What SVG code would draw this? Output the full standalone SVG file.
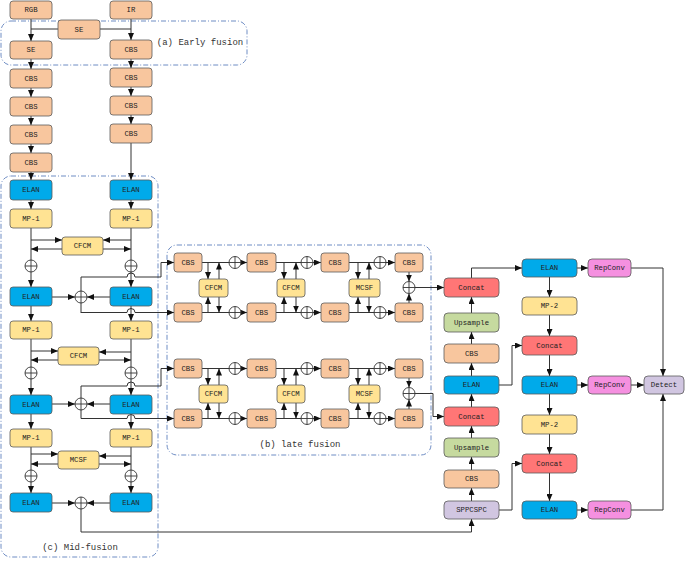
<svg xmlns="http://www.w3.org/2000/svg" width="685" height="561" viewBox="0 0 685 561">
<style>
rect.n{stroke:#5a5a5a;stroke-width:0.8}
.cbs{fill:#F8C69E}.elan{fill:#00AAEA}.yel{fill:#FFE393}.cat{fill:#FF7676}.ups{fill:#C6DA9F}.rep{fill:#F590E0}.pur{fill:#D1C6E1}
text{font-family:"Liberation Mono","DejaVu Sans Mono",monospace;font-size:7.3px;text-anchor:middle;dominant-baseline:central;fill:#222}
text.cap{font-size:9px;fill:#333}
.ln{fill:none;stroke:#333;stroke-width:1}
.a{marker-end:url(#ah)}
.ox circle{fill:#fff;stroke:#333;stroke-width:0.9}
.ox path{stroke:#333;stroke-width:0.9;fill:none}
.reg{fill:none;stroke:#6F8DC4;stroke-width:1;stroke-dasharray:5 2 1 2}
</style>
<defs>
<marker id="ah" markerWidth="7" markerHeight="6" refX="7" refY="3" orient="auto" markerUnits="userSpaceOnUse"><path d="M0,0 L7,3 L0,6 z" fill="#111"/></marker>
</defs>
<rect width="685" height="561" fill="#fff"/>
<g id="regions">
<rect class="reg" x="1" y="21" width="246" height="44" rx="10"/>
<rect class="reg" x="1" y="176" width="157" height="381" rx="10"/>
<rect class="reg" x="167" y="245" width="264" height="210" rx="10"/>
<text class="cap" x="200" y="43">(a) Early fusion</text>
<text class="cap" x="80" y="548">(c) Mid-fusion</text>
<text class="cap" x="300" y="445">(b) late fusion</text>
</g>
<g id="connectors">
<!-- early fusion -->
<path class="ln a" d="M31,19 V41"/>
<path class="ln" d="M31,29 H58 M100,29 H131"/>
<path class="ln a" d="M131,19 V40"/>
<path class="ln a" d="M31,59 V69"/><path class="ln a" d="M31,88 V97"/><path class="ln a" d="M31,116 V125"/><path class="ln a" d="M31,144 V153"/><path class="ln a" d="M31,172 V180"/>
<path class="ln a" d="M131,59 V68"/><path class="ln a" d="M131,87 V96"/><path class="ln a" d="M131,115 V124"/><path class="ln a" d="M131,143 V180"/>
<!-- mid fusion columns -->
<path class="ln a" d="M31,200 V209"/><path class="ln a" d="M131,200 V209"/>
<path class="ln a" d="M31,228 V287"/><path class="ln a" d="M131,228 V287"/>
<path class="ln a" d="M31,306 V321"/><path class="ln a" d="M131,306 V321"/>
<path class="ln a" d="M31,339 V395"/><path class="ln a" d="M131,339 V395"/>
<path class="ln a" d="M31,414 V429"/><path class="ln a" d="M131,414 V429"/>
<path class="ln a" d="M31,447 V493"/><path class="ln a" d="M131,447 V493"/>
<!-- CFCM / MCSF exchange -->
<path class="ln a" d="M31,240 H62"/><path class="ln a" d="M131,240 H103"/><path class="ln a" d="M62,249 H31"/><path class="ln a" d="M103,249 H131"/>
<path class="ln a" d="M31,351 H58"/><path class="ln a" d="M131,352 H99"/><path class="ln a" d="M58,360 H31"/><path class="ln a" d="M99,360 H131"/>
<path class="ln a" d="M31,454 H58"/><path class="ln a" d="M131,456 H99"/><path class="ln a" d="M58,464 H31"/><path class="ln a" d="M99,464 H131"/>
<!-- middle add -->
<path class="ln a" d="M52,297 H75"/><path class="ln a" d="M110,297 H87"/>
<path class="ln a" d="M52,404 H75"/><path class="ln a" d="M110,404 H87"/>
<path class="ln a" d="M52,503 H75"/><path class="ln a" d="M110,503 H87"/>
<path class="ln" d="M81,277 V313"/>
<path class="ln" d="M81,386 V418.5"/>
<path class="ln a" d="M81,277 H127 A4,4 0 0 1 135,277 H161 V262.5 H174"/>
<path class="ln a" d="M81,312.5 H127 A4,4 0 0 1 135,312.5 H174"/>
<path class="ln a" d="M81,386 H127 A4,4 0 0 1 135,386 H161 V368.5 H174"/>
<path class="ln a" d="M81,418.5 H127 A4,4 0 0 1 135,418.5 H174"/>
<path class="ln a" d="M81,509 V532 H471.5 V519"/>
<!-- late fusion block 1 -->
<path class="ln" d="M202,262.5 H229 M276,262.5 H301 M349,262.5 H374 M202,312.5 H229 M276,312.5 H301 M349,312.5 H374"/>
<path class="ln a" d="M241,262.5 H247"/><path class="ln a" d="M313,262.5 H321"/><path class="ln a" d="M386,262.5 H395"/>
<path class="ln a" d="M241,312.5 H247"/><path class="ln a" d="M313,312.5 H321"/><path class="ln a" d="M386,312.5 H395"/>
<path class="ln a" d="M208,262.5 V279"/><path class="ln a" d="M219,279 V262.5"/><path class="ln a" d="M208,312.5 V297"/><path class="ln a" d="M219,297 V312.5"/>
<path class="ln a" d="M284,262.5 V279"/><path class="ln a" d="M296,279 V262.5"/><path class="ln a" d="M284,312.5 V297"/><path class="ln a" d="M296,297 V312.5"/>
<path class="ln a" d="M358,262.5 V279"/><path class="ln a" d="M369,279 V262.5"/><path class="ln a" d="M358,312.5 V297"/><path class="ln a" d="M369,297 V312.5"/>
<path class="ln a" d="M409,272 V281.5"/><path class="ln a" d="M409,303 V293.5"/>
<path class="ln a" d="M415,287.5 H444"/>
<!-- late fusion block 2 -->
<path class="ln" d="M202,368.5 H229 M276,368.5 H301 M349,368.5 H374 M202,418.5 H229 M276,418.5 H301 M349,418.5 H374"/>
<path class="ln a" d="M241,368.5 H247"/><path class="ln a" d="M313,368.5 H321"/><path class="ln a" d="M386,368.5 H395"/>
<path class="ln a" d="M241,418.5 H247"/><path class="ln a" d="M313,418.5 H321"/><path class="ln a" d="M386,418.5 H395"/>
<path class="ln a" d="M208,368.5 V385"/><path class="ln a" d="M219,385 V368.5"/><path class="ln a" d="M208,418.5 V403"/><path class="ln a" d="M219,403 V418.5"/>
<path class="ln a" d="M284,368.5 V385"/><path class="ln a" d="M296,385 V368.5"/><path class="ln a" d="M284,418.5 V403"/><path class="ln a" d="M296,403 V418.5"/>
<path class="ln a" d="M358,368.5 V385"/><path class="ln a" d="M369,385 V368.5"/><path class="ln a" d="M358,418.5 V403"/><path class="ln a" d="M369,403 V418.5"/>
<path class="ln a" d="M409,378 V387.5"/><path class="ln a" d="M409,409 V399.5"/>
<path class="ln a" d="M415,393.5 H433 V416.5 H444"/>
<!-- neck / head -->
<path class="ln a" d="M471.5,501 V488"/><path class="ln a" d="M471.5,470 V457"/><path class="ln a" d="M471.5,438 V426"/><path class="ln a" d="M471.5,407 V394"/>
<path class="ln a" d="M471.5,376 V363"/><path class="ln a" d="M471.5,344 V332"/><path class="ln a" d="M471.5,313 V297"/>
<path class="ln a" d="M471.5,278 V268 H522"/>
<path class="ln a" d="M499,385 H512 V345.5 H522"/>
<path class="ln a" d="M499,510 H512 V463.5 H522"/>
<path class="ln a" d="M549.5,277 V297"/><path class="ln a" d="M549.5,315 V336"/><path class="ln a" d="M549.5,355 V376"/>
<path class="ln a" d="M549.5,394 V415"/><path class="ln a" d="M549.5,434 V454"/><path class="ln a" d="M549.5,473 V501"/>
<path class="ln a" d="M577,268 H588"/><path class="ln a" d="M577,385 H588"/><path class="ln a" d="M577,510 H588"/>
<path class="ln a" d="M631,268 H663 V376"/>
<path class="ln a" d="M631,385 H644"/>
<path class="ln a" d="M631,510 H663 V394"/>
</g>
<!-- early fusion nodes -->
<g id="rgb"><rect class="n cbs" x="10" y="1" width="42" height="18" rx="3"/><text x="31" y="10">RGB</text></g>
<g id="ir"><rect class="n cbs" x="110" y="1" width="42" height="18" rx="3"/><text x="131" y="10">IR</text></g>
<g id="se-mid"><rect class="n cbs" x="58" y="20" width="42" height="19" rx="3"/><text x="79" y="29.5">SE</text></g>
<g id="se-left"><rect class="n cbs" x="10" y="41" width="42" height="18" rx="3"/><text x="31" y="50">SE</text></g>
<g id="cbs-r1"><rect class="n cbs" x="110" y="40" width="42" height="19" rx="3"/><text x="131" y="49.5">CBS</text></g>
<g id="cbs-l1"><rect class="n cbs" x="10" y="69" width="42" height="19" rx="3"/><text x="31" y="78.5">CBS</text></g>
<g id="cbs-l2"><rect class="n cbs" x="10" y="97" width="42" height="19" rx="3"/><text x="31" y="106.5">CBS</text></g>
<g id="cbs-l3"><rect class="n cbs" x="10" y="125" width="42" height="19" rx="3"/><text x="31" y="134.5">CBS</text></g>
<g id="cbs-l4"><rect class="n cbs" x="10" y="153" width="42" height="19" rx="3"/><text x="31" y="162.5">CBS</text></g>
<g id="cbs-r2"><rect class="n cbs" x="110" y="68" width="42" height="19" rx="3"/><text x="131" y="77.5">CBS</text></g>
<g id="cbs-r3"><rect class="n cbs" x="110" y="96" width="42" height="19" rx="3"/><text x="131" y="105.5">CBS</text></g>
<g id="cbs-r4"><rect class="n cbs" x="110" y="124" width="42" height="19" rx="3"/><text x="131" y="133.5">CBS</text></g>
<!-- mid fusion nodes -->
<g id="elan-l1"><rect class="n elan" x="10" y="180" width="42" height="20" rx="3"/><text x="31" y="190">ELAN</text></g>
<g id="elan-r1"><rect class="n elan" x="110" y="180" width="42" height="20" rx="3"/><text x="131" y="190">ELAN</text></g>
<g id="mp-l1"><rect class="n yel" x="10" y="209" width="42" height="19" rx="3"/><text x="31" y="218.5">MP-1</text></g>
<g id="mp-r1"><rect class="n yel" x="110" y="209" width="42" height="19" rx="3"/><text x="131" y="218.5">MP-1</text></g>
<g id="cfcm-m1"><rect class="n yel" x="62" y="237" width="41" height="18" rx="3"/><text x="82.5" y="246">CFCM</text></g>
<g id="add-l1" class="ox"><circle cx="31" cy="266" r="6"/><path d="M25,266 H37 M31,260 V272"/></g>
<g id="add-r1" class="ox"><circle cx="131" cy="266" r="6"/><path d="M125,266 H137 M131,260 V272"/></g>
<g id="elan-l2"><rect class="n elan" x="10" y="287" width="42" height="19" rx="3"/><text x="31" y="296.5">ELAN</text></g>
<g id="elan-r2"><rect class="n elan" x="110" y="287" width="42" height="19" rx="3"/><text x="131" y="296.5">ELAN</text></g>
<g id="add-m1" class="ox"><circle cx="81" cy="297" r="6"/><path d="M75,297 H87 M81,291 V303"/></g>
<g id="mp-l2"><rect class="n yel" x="10" y="321" width="42" height="18" rx="3"/><text x="31" y="330">MP-1</text></g>
<g id="mp-r2"><rect class="n yel" x="110" y="321" width="42" height="18" rx="3"/><text x="131" y="330">MP-1</text></g>
<g id="cfcm-m2"><rect class="n yel" x="58" y="347" width="41" height="18" rx="3"/><text x="78.5" y="356">CFCM</text></g>
<g id="add-l2" class="ox"><circle cx="31" cy="373" r="6"/><path d="M25,373 H37 M31,367 V379"/></g>
<g id="add-r2" class="ox"><circle cx="131" cy="373" r="6"/><path d="M125,373 H137 M131,367 V379"/></g>
<g id="elan-l3"><rect class="n elan" x="10" y="395" width="42" height="19" rx="3"/><text x="31" y="404.5">ELAN</text></g>
<g id="elan-r3"><rect class="n elan" x="110" y="395" width="42" height="19" rx="3"/><text x="131" y="404.5">ELAN</text></g>
<g id="add-m2" class="ox"><circle cx="81" cy="404" r="6"/><path d="M75,404 H87 M81,398 V410"/></g>
<g id="mp-l3"><rect class="n yel" x="10" y="429" width="42" height="18" rx="3"/><text x="31" y="438">MP-1</text></g>
<g id="mp-r3"><rect class="n yel" x="110" y="429" width="42" height="18" rx="3"/><text x="131" y="438">MP-1</text></g>
<g id="mcsf-m"><rect class="n yel" x="58" y="451" width="41" height="18" rx="3"/><text x="78.5" y="460">MCSF</text></g>
<g id="add-l3" class="ox"><circle cx="31" cy="476" r="6"/><path d="M25,476 H37 M31,470 V482"/></g>
<g id="add-r3" class="ox"><circle cx="131" cy="476" r="6"/><path d="M125,476 H137 M131,470 V482"/></g>
<g id="elan-l4"><rect class="n elan" x="10" y="493" width="42" height="19" rx="3"/><text x="31" y="502.5">ELAN</text></g>
<g id="elan-r4"><rect class="n elan" x="110" y="493" width="42" height="19" rx="3"/><text x="131" y="502.5">ELAN</text></g>
<g id="add-m3" class="ox"><circle cx="81" cy="503" r="6"/><path d="M75,503 H87 M81,497 V509"/></g>
<!-- late fusion block 1 -->
<g id="lf1-t1"><rect class="n cbs" x="174" y="253" width="28" height="19" rx="3"/><text x="188" y="262.5">CBS</text></g>
<g id="lf1-t2"><rect class="n cbs" x="247" y="253" width="29" height="19" rx="3"/><text x="261.5" y="262.5">CBS</text></g>
<g id="lf1-t3"><rect class="n cbs" x="321" y="253" width="28" height="19" rx="3"/><text x="335" y="262.5">CBS</text></g>
<g id="lf1-t4"><rect class="n cbs" x="395" y="253" width="28" height="19" rx="3"/><text x="409" y="262.5">CBS</text></g>
<g id="lf1-b1"><rect class="n cbs" x="174" y="303" width="28" height="19" rx="3"/><text x="188" y="312.5">CBS</text></g>
<g id="lf1-b2"><rect class="n cbs" x="247" y="303" width="29" height="19" rx="3"/><text x="261.5" y="312.5">CBS</text></g>
<g id="lf1-b3"><rect class="n cbs" x="321" y="303" width="28" height="19" rx="3"/><text x="335" y="312.5">CBS</text></g>
<g id="lf1-b4"><rect class="n cbs" x="395" y="303" width="28" height="19" rx="3"/><text x="409" y="312.5">CBS</text></g>
<g id="lf1-cfcm1"><rect class="n yel" x="199" y="279" width="29" height="18" rx="3"/><text x="213.5" y="288">CFCM</text></g>
<g id="lf1-cfcm2"><rect class="n yel" x="277" y="279" width="28" height="18" rx="3"/><text x="291" y="288">CFCM</text></g>
<g id="lf1-mcsf"><rect class="n yel" x="349" y="279" width="31" height="18" rx="3"/><text x="364.5" y="288">MCSF</text></g>
<g id="lf1-at1" class="ox"><circle cx="235" cy="262.5" r="6"/><path d="M229,262.5 H241 M235,256.5 V268.5"/></g>
<g id="lf1-at2" class="ox"><circle cx="307" cy="262.5" r="6"/><path d="M301,262.5 H313 M307,256.5 V268.5"/></g>
<g id="lf1-at3" class="ox"><circle cx="380" cy="262.5" r="6"/><path d="M374,262.5 H386 M380,256.5 V268.5"/></g>
<g id="lf1-ab1" class="ox"><circle cx="235" cy="312.5" r="6"/><path d="M229,312.5 H241 M235,306.5 V318.5"/></g>
<g id="lf1-ab2" class="ox"><circle cx="307" cy="312.5" r="6"/><path d="M301,312.5 H313 M307,306.5 V318.5"/></g>
<g id="lf1-ab3" class="ox"><circle cx="380" cy="312.5" r="6"/><path d="M374,312.5 H386 M380,306.5 V318.5"/></g>
<g id="lf1-out" class="ox"><circle cx="409" cy="287.5" r="6"/><path d="M403,287.5 H415 M409,281.5 V293.5"/></g>
<!-- late fusion block 2 -->
<g id="lf2-t1"><rect class="n cbs" x="174" y="359" width="28" height="19" rx="3"/><text x="188" y="368.5">CBS</text></g>
<g id="lf2-t2"><rect class="n cbs" x="247" y="359" width="29" height="19" rx="3"/><text x="261.5" y="368.5">CBS</text></g>
<g id="lf2-t3"><rect class="n cbs" x="321" y="359" width="28" height="19" rx="3"/><text x="335" y="368.5">CBS</text></g>
<g id="lf2-t4"><rect class="n cbs" x="395" y="359" width="28" height="19" rx="3"/><text x="409" y="368.5">CBS</text></g>
<g id="lf2-b1"><rect class="n cbs" x="174" y="409" width="28" height="19" rx="3"/><text x="188" y="418.5">CBS</text></g>
<g id="lf2-b2"><rect class="n cbs" x="247" y="409" width="29" height="19" rx="3"/><text x="261.5" y="418.5">CBS</text></g>
<g id="lf2-b3"><rect class="n cbs" x="321" y="409" width="28" height="19" rx="3"/><text x="335" y="418.5">CBS</text></g>
<g id="lf2-b4"><rect class="n cbs" x="395" y="409" width="28" height="19" rx="3"/><text x="409" y="418.5">CBS</text></g>
<g id="lf2-cfcm1"><rect class="n yel" x="199" y="385" width="29" height="18" rx="3"/><text x="213.5" y="394">CFCM</text></g>
<g id="lf2-cfcm2"><rect class="n yel" x="277" y="385" width="28" height="18" rx="3"/><text x="291" y="394">CFCM</text></g>
<g id="lf2-mcsf"><rect class="n yel" x="349" y="385" width="31" height="18" rx="3"/><text x="364.5" y="394">MCSF</text></g>
<g id="lf2-at1" class="ox"><circle cx="235" cy="368.5" r="6"/><path d="M229,368.5 H241 M235,362.5 V374.5"/></g>
<g id="lf2-at2" class="ox"><circle cx="307" cy="368.5" r="6"/><path d="M301,368.5 H313 M307,362.5 V374.5"/></g>
<g id="lf2-at3" class="ox"><circle cx="380" cy="368.5" r="6"/><path d="M374,368.5 H386 M380,362.5 V374.5"/></g>
<g id="lf2-ab1" class="ox"><circle cx="235" cy="418.5" r="6"/><path d="M229,418.5 H241 M235,412.5 V424.5"/></g>
<g id="lf2-ab2" class="ox"><circle cx="307" cy="418.5" r="6"/><path d="M301,418.5 H313 M307,412.5 V424.5"/></g>
<g id="lf2-ab3" class="ox"><circle cx="380" cy="418.5" r="6"/><path d="M374,418.5 H386 M380,412.5 V424.5"/></g>
<g id="lf2-out" class="ox"><circle cx="409" cy="393.5" r="6"/><path d="M403,393.5 H415 M409,387.5 V399.5"/></g>
<!-- neck column 1 -->
<g id="concat1"><rect class="n cat" x="444" y="278" width="55" height="19" rx="4"/><text x="471.5" y="287.5">Concat</text></g>
<g id="upsample1"><rect class="n ups" x="444" y="313" width="55" height="19" rx="4"/><text x="471.5" y="322.5">Upsample</text></g>
<g id="cbs-n1"><rect class="n cbs" x="444" y="344" width="55" height="19" rx="4"/><text x="471.5" y="353.5">CBS</text></g>
<g id="elan-n1"><rect class="n elan" x="444" y="376" width="55" height="18" rx="4"/><text x="471.5" y="385">ELAN</text></g>
<g id="concat2"><rect class="n cat" x="444" y="407" width="55" height="19" rx="4"/><text x="471.5" y="416.5">Concat</text></g>
<g id="upsample2"><rect class="n ups" x="444" y="438" width="55" height="19" rx="4"/><text x="471.5" y="447.5">Upsample</text></g>
<g id="cbs-n2"><rect class="n cbs" x="444" y="470" width="55" height="18" rx="4"/><text x="471.5" y="479">CBS</text></g>
<g id="sppcspc"><rect class="n pur" x="444" y="501" width="55" height="18" rx="4"/><text x="471.5" y="510">SPPCSPC</text></g>
<!-- head column -->
<g id="elan-h1"><rect class="n elan" x="522" y="259" width="55" height="18" rx="4"/><text x="549.5" y="268">ELAN</text></g>
<g id="mp2-1"><rect class="n yel" x="522" y="297" width="55" height="18" rx="4"/><text x="549.5" y="306">MP-2</text></g>
<g id="concat3"><rect class="n cat" x="522" y="336" width="55" height="19" rx="4"/><text x="549.5" y="345.5">Concat</text></g>
<g id="elan-h2"><rect class="n elan" x="522" y="376" width="55" height="18" rx="4"/><text x="549.5" y="385">ELAN</text></g>
<g id="mp2-2"><rect class="n yel" x="522" y="415" width="55" height="19" rx="4"/><text x="549.5" y="424.5">MP-2</text></g>
<g id="concat4"><rect class="n cat" x="522" y="454" width="55" height="19" rx="4"/><text x="549.5" y="463.5">Concat</text></g>
<g id="elan-h3"><rect class="n elan" x="522" y="501" width="55" height="18" rx="4"/><text x="549.5" y="510">ELAN</text></g>
<g id="repconv1"><rect class="n rep" x="588" y="259" width="43" height="18" rx="4"/><text x="609.5" y="268">RepConv</text></g>
<g id="repconv2"><rect class="n rep" x="588" y="376" width="43" height="18" rx="4"/><text x="609.5" y="385">RepConv</text></g>
<g id="repconv3"><rect class="n rep" x="588" y="501" width="43" height="18" rx="4"/><text x="609.5" y="510">RepConv</text></g>
<g id="detect"><rect class="n pur" x="644" y="376" width="40" height="18" rx="4"/><text x="664" y="385">Detect</text></g>
</svg>
